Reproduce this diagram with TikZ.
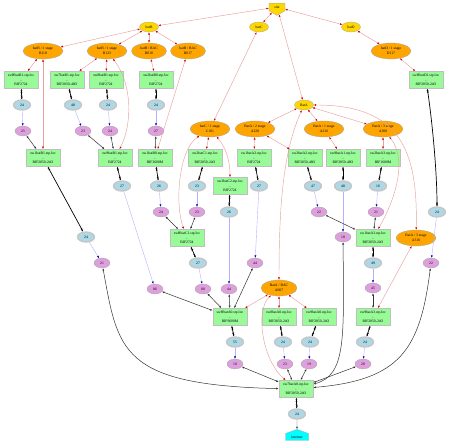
\documentclass[tikz,border=0pt]{standalone}
\usepackage{fontspec}
\setmainfont{Liberation Serif}
\usetikzlibrary{shapes.geometric,shapes.symbols,arrows.meta}
\definecolor{cgold}{HTML}{FFD700}
\definecolor{corange}{HTML}{FFA500}
\definecolor{cgreen}{HTML}{98FB98}
\definecolor{cblue}{HTML}{ADD8E6}
\definecolor{cplum}{HTML}{DDA0DD}
\definecolor{ccyan}{HTML}{00FFFF}
\definecolor{cpink}{HTML}{E8A0A0}
\begin{document}
\begin{tikzpicture}[x=1pt,y=-1pt,
  every node/.style={font=\fontsize{3.7}{4.7}\selectfont, inner sep=0pt},
  yel/.style={ellipse, fill=cgold, draw=gray!70, line width=0.3pt, minimum width=19pt, minimum height=10pt},
  org/.style={ellipse, fill=corange, draw=gray!70, line width=0.3pt, minimum width=40pt, minimum height=16pt, align=center},
  box/.style={rectangle, fill=cgreen, draw=gray!50, line width=0.8pt, minimum width=34pt, minimum height=17pt, align=center},
  cbl/.style={ellipse, fill=cblue, draw=gray!45, line width=1.4pt, minimum width=17pt, minimum height=10pt},
  cpl/.style={ellipse, fill=cplum, draw=gray!70, line width=0.3pt, minimum width=16pt, minimum height=10pt},
  rline/.style={draw=cpink, line width=0.45pt, arrows={Latex[length=2.4pt,width=2pt,color=red!85!black]-Latex[length=2.4pt,width=2pt,color=red!85!black]}},
  kline/.style={draw=black!80, line width=0.5pt, arrows={Latex[length=2.4pt,width=2pt]-Latex[length=2.4pt,width=2pt]}},
  kthick/.style={draw=black, line width=0.7pt, arrows={Latex[length=1.8pt,width=2pt]Latex[length=1.8pt,width=2pt]-Latex[length=1.8pt,width=2pt]Latex[length=1.8pt,width=2pt]}},
  bline/.style={draw=blue!30, line width=0.4pt, arrows={-Latex[length=2.4pt,width=2pt,color=blue!60!black]}}
]
\useasboundingbox (0,0) rectangle (450,443);
% top level
\node[signal, signal to=south, signal from=nowhere, fill=cgold, draw=gray!70, line width=0.3pt, minimum width=16pt, minimum height=9pt, signal pointer angle=120] (site) at (277,7) {site};
\node[yel] (batB) at (149,27) {batB};
\node[yel] (batC) at (259,27) {batC};
\node[yel] (batD) at (351,27) {batD};
\node[yel] (batA) at (304,105) {BatA};
% orange
\node[org] (oB118) at (43,51) {batB / 1 stage\\B118};
\node[org] (oB123) at (107,51) {batB / 1 stage\\B123};
\node[org, minimum width=35pt] (oB010) at (149,51) {batB / BAC\\B010};
\node[org, minimum width=35pt] (oB017) at (188,51) {batB / BAC\\B017};
\node[org] (oD117) at (391,51) {batD / 1 stage\\D117};
\node[org] (oC101) at (210,129) {batC / 1 stage\\C101};
\node[org] (oA220) at (255,129) {BatA / 2 stage\\A220};
\node[org] (oA216) at (324,129) {BatA / 1 stage\\A216};
\node[org] (oA300) at (383,129) {BatA / 3 stage\\A300};
\node[org] (oA310) at (416,238) {BatA / 3 stage\\A310};
\node[org, minimum width=36pt] (oA007) at (279,288) {BatA / BAC\\A007};
% boxes
\node[box] (bx1) at (21,80) {swHbatB1.stp.loc\\-\\BIF2724};
\node[box] (bx2) at (67,80) {sw7batB1.stp.loc\\-\\BIF2850-48O};
\node[box] (bx3) at (106,80) {sw8batB1.stp.loc\\-\\BIF2724};
\node[box] (bx4) at (156,80) {sw2batB0.stp.loc\\-\\BIF2724};
\node[box] (bx5) at (426,80) {swHbatD1.stp.loc\\-\\BIF2850-24O};
\node[box] (bx6) at (43,158) {sw1batB1.stp.loc\\-\\BIF2850-24O};
\node[box] (bx7) at (115,158) {sw9batB1.stp.loc\\-\\BIF2724};
\node[box] (bx8) at (155,158) {sw1batB0.stp.loc\\-\\BIF2600M};
\node[box] (bx9) at (205,158) {sw2batC1.stp.loc\\-\\BIF2850-24O};
\node[box] (bx10) at (230,186) {sw3batC2.stp.loc\\-\\BIF2724};
\node[box] (bx11) at (187,238) {swHbatC1.stp.loc\\-\\BIF2724};
\node[box] (bx12) at (254,158) {sw1batA2.stp.loc\\-\\BIF2724};
\node[box] (bx13) at (305,158) {sw2batA2.stp.loc\\-\\BIF2850-48O};
\node[box] (bx14) at (343,158) {sw9batA1.stp.loc\\-\\BIF2850-48O};
\node[box] (bx15) at (383,158) {sw2batA3.stp.loc\\-\\BIF1600M};
\node[box] (bx16) at (373,238) {sw1batA3.stp.loc\\-\\BIF2850-24O};
\node[box] (bx17) at (230,317) {swHbatA0.stp.loc\\-\\BIF9600M};
\node[box] (bx18) at (279,317) {sw8batA0.stp.loc\\-\\BIF2850-24O};
\node[box] (bx19) at (319,317) {sw9batA0.stp.loc\\-\\BIF2850-24O};
\node[box] (bx20) at (373,317) {sw9batA3.stp.loc\\-\\BIF2850-24O};
\node[box] (bx21) at (296,389) {sw7batA0.stp.loc\\-\\BIF2850-24O};
% blue
\node[cbl] (c1) at (22,105) {24};
\node[cbl] (c2) at (73,105) {48};
\node[cbl] (c3) at (108,105) {24};
\node[cbl] (c4) at (156,105) {24};
\node[cbl] (c5) at (86,237) {24};
\node[cbl] (c6) at (122,186) {27};
\node[cbl] (c7) at (159,186) {26};
\node[cbl] (c8) at (197,186) {23};
\node[cbl] (c9) at (229,212) {26};
\node[cbl] (c10) at (198,263) {27};
\node[cbl] (c11) at (259,186) {27};
\node[cbl] (c12) at (313,186) {47};
\node[cbl] (c13) at (343,186) {48};
\node[cbl] (c14) at (378,186) {16};
\node[cbl] (c15) at (437,212) {24};
\node[cbl] (c16) at (373,263) {49};
\node[cbl] (c17) at (235,342) {55};
\node[cbl] (c18) at (283,342) {24};
\node[cbl] (c19) at (310,342) {24};
\node[cbl] (c20) at (365,342) {24};
\node[cbl] (c21) at (297,414) {24};
% purple
\node[cpl] (p1) at (23,131) {23};
\node[cpl] (p2) at (83,131) {23};
\node[cpl] (p3) at (110,131) {24};
\node[cpl] (p4) at (156,131) {27};
\node[cpl] (p5) at (102,263) {21};
\node[cpl] (p6) at (155,289) {86};
\node[cpl] (p7) at (161,212) {24};
\node[cpl] (p8) at (197,212) {23};
\node[cpl] (p9) at (203,289) {80};
\node[cpl] (p10) at (229,289) {44};
\node[cpl] (p11) at (255,263) {44};
\node[cpl] (p12) at (319,212) {22};
\node[cpl] (p13) at (376,212) {21};
\node[cpl] (p14) at (343,237) {18};
\node[cpl] (p15) at (431,263) {22};
\node[cpl] (p16) at (373,288) {45};
\node[cpl] (p17) at (235,364) {18};
\node[cpl] (p18) at (285,364) {23};
\node[cpl] (p19) at (309,364) {19};
\node[cpl] (p20) at (363,364) {20};
\node[signal, signal to=north, signal from=nowhere, fill=ccyan, draw=gray!70, line width=0.3pt, minimum width=23pt, minimum height=9pt, signal pointer angle=140] (inet) at (297,437) {internet};
% red edges
\draw[rline] (site) -- (batB);
\draw[rline] (site) -- (batC);
\draw[rline] (site) -- (batD);
\draw[rline] (site) -- (batA);
\draw[rline] (batB) -- (oB118);
\draw[rline] (batB) -- (oB123);
\draw[rline] (batB) -- (oB010);
\draw[rline] (batB) -- (oB017);
\draw[rline] (batD) -- (oD117);
\draw[rline] (oB118) -- (bx1);
\draw[rline] (oB118) -- (bx6);
\draw[rline] (oB123) -- (bx2);
\draw[rline] (oB123) -- (bx3);
\draw[rline] (oB123) .. controls (133,85) and (132,125) .. (bx7);
\draw[rline] (oB010) -- (bx4);
\draw[rline] (oB017) -- (bx8);
\draw[rline] (oD117) -- (bx5);
\draw[rline] (batC) -- (oC101);
\draw[rline] (oC101) -- (bx9);
\draw[rline] (oC101) .. controls (178,150) and (175,205) .. (bx11);
\draw[rline] (oC101) .. controls (228,150) and (230,165) .. (bx10);
\draw[rline] (batA) -- (oA220);
\draw[rline] (batA) -- (oA216);
\draw[rline] (batA) -- (oA300);
\draw[rline] (batA) .. controls (284,150) and (279,200) .. (oA007);
\draw[rline] (batA) .. controls (400,105) and (418,150) .. (oA310);
\draw[rline] (oA220) -- (bx12);
\draw[rline] (oA220) -- (bx13);
\draw[rline] (oA216) -- (bx14);
\draw[rline] (oA300) -- (bx15);
\draw[rline] (oA300) .. controls (408,160) and (395,200) .. (bx16);
\draw[rline] (oA310) -- (bx20);
\draw[rline] (oA007) -- (bx17);
\draw[rline] (oA007) -- (bx18);
\draw[rline] (oA007) -- (bx19);
\draw[rline] (oA007) .. controls (255,310) and (262,360) .. (bx21);
% box - blue
\draw[kthick] (bx1) -- (c1);
\draw[kthick] (bx2) -- (c2);
\draw[kthick] (bx3) -- (c3);
\draw[kthick] (bx4) -- (c4);
\draw[kthick] (bx5) .. controls (432,120) and (437,170) .. (c15);
\draw[kthick] (bx6) -- (c5);
\draw[kthick] (bx7) -- (c6);
\draw[kthick] (bx8) -- (c7);
\draw[kthick] (bx9) -- (c8);
\draw[kthick] (bx10) -- (c9);
\draw[kthick] (bx11) -- (c10);
\draw[kthick] (bx12) -- (c11);
\draw[kthick] (bx13) -- (c12);
\draw[kthick] (bx14) -- (c13);
\draw[kthick] (bx15) -- (c14);
\draw[kthick] (bx16) -- (c16);
\draw[kthick] (bx17) -- (c17);
\draw[kthick] (bx18) -- (c18);
\draw[kthick] (bx19) -- (c19);
\draw[kthick] (bx20) -- (c20);
\draw[kthick] (bx21) -- (c21);
\draw[draw=black!70, line width=0.4pt, arrows={-Latex[length=2.4pt,width=2pt]}] (c21) -- (inet);
% blue - purple
\draw[bline] (c1) -- (p1);
\draw[bline] (c2) -- (p2);
\draw[bline] (c3) -- (p3);
\draw[bline] (c4) -- (p4);
\draw[bline] (c5) -- (p5);
\draw[bline] (c6) -- (p6);
\draw[bline] (c7) -- (p7);
\draw[bline] (c8) -- (p8);
\draw[bline] (c9) -- (p10);
\draw[bline] (c10) -- (p9);
\draw[bline] (c11) -- (p11);
\draw[bline] (c12) -- (p12);
\draw[bline] (c13) -- (p14);
\draw[bline] (c14) -- (p13);
\draw[bline] (c15) -- (p15);
\draw[bline] (c16) -- (p16);
\draw[bline] (c17) -- (p17);
\draw[bline] (c18) -- (p18);
\draw[bline] (c19) -- (p19);
\draw[bline] (c20) -- (p20);
% purple - box
\draw[kline] (p1) -- (bx6);
\draw[kline] (p2) -- (bx7);
\draw[kline] (p3) -- (bx7);
\draw[kline] (p4) -- (bx8);
\draw[kline] (p7) -- (bx11);
\draw[kline] (p8) -- (bx11);
\draw[kline] (p6) -- (bx17);
\draw[kline] (p9) -- (bx17);
\draw[kline] (p10) -- (bx17);
\draw[kline] (p11) -- (bx17);
\draw[kline] (p12) -- (bx16);
\draw[kline] (p13) -- (bx16);
\draw[kline] (p16) -- (bx20);
\draw[kline] (p17) -- (bx21);
\draw[kline] (p18) -- (bx21);
\draw[kline] (p19) -- (bx21);
\draw[kline] (p20) -- (bx21);
\draw[kline] (p5) .. controls (118,350) and (120,385) .. (bx21);
\draw[kline] (p14) .. controls (344,340) and (346,375) .. (bx21);
\draw[kline] (p15) .. controls (420,350) and (400,380) .. (bx21);
\end{tikzpicture}
\end{document}
